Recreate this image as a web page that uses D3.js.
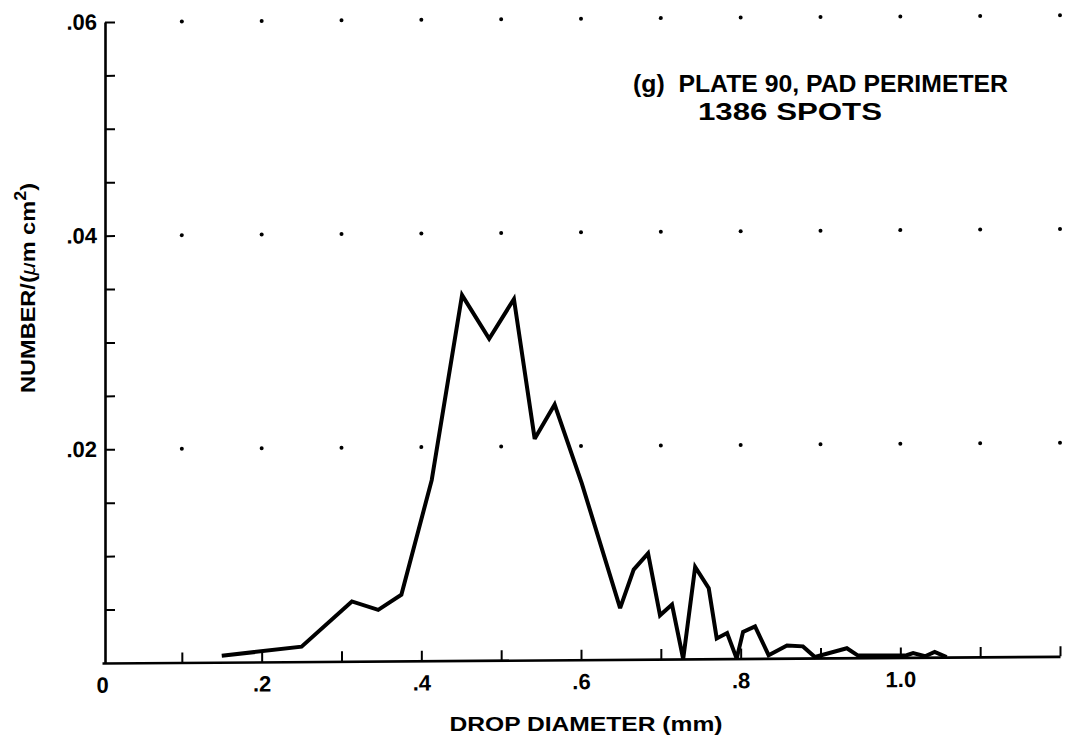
<!DOCTYPE html>
<html>
<head>
<meta charset="utf-8">
<script src="https://cdn.jsdelivr.net/npm/d3@7"></script>
<style>
  html, body { margin: 0; padding: 0; background: #fff; }
  svg { display: block; }
  text { font-family: "Liberation Sans", Arial, Helvetica, sans-serif; font-weight: bold; fill: #000; }
</style>
</head>
<body>
<svg id="chart" width="1065" height="738"></svg>
<script>
// Drop-size distribution, plate 90, pad perimeter
const diameterMm = [0.150, 0.250, 0.313, 0.346, 0.375, 0.413, 0.451, 0.485, 0.516, 0.542,
                    0.567, 0.601, 0.649, 0.666, 0.684, 0.699, 0.714, 0.728, 0.743, 0.760,
                    0.770, 0.783, 0.795, 0.803, 0.818, 0.835, 0.858, 0.878, 0.893, 0.933,
                    0.947, 1.008, 1.016, 1.031, 1.043, 1.058];
const numberDensity = [0.0006, 0.0014, 0.0056, 0.0048, 0.0062, 0.0169, 0.0342, 0.0301, 0.0338, 0.0207,
                       0.0239, 0.0165, 0.0048, 0.0084, 0.0099, 0.0041, 0.0051, 0.0000, 0.0086, 0.0066,
                       0.0019, 0.0024, 0.0000, 0.0025, 0.0030, 0.0003, 0.0012, 0.0011, 0.0001, 0.0009,
                       0.0002, 0.0002, 0.0004, 0.0001, 0.0005, 0.0000];

const xTickValues = [0.1, 0.2, 0.3, 0.4, 0.5, 0.6, 0.7, 0.8, 0.9, 1.0, 1.1, 1.2];
const xLabelValues = [0, 0.2, 0.4, 0.6, 0.8, 1.0];
const yTickValues = [0.005, 0.01, 0.015, 0.02, 0.025, 0.03, 0.035, 0.04, 0.045, 0.05, 0.055, 0.06];
const yLabelValues = [0.02, 0.04, 0.06];
const gridX = [0.1, 0.2, 0.3, 0.4, 0.5, 0.6, 0.7, 0.8, 0.9, 1.0, 1.1, 1.2];
const gridY = [0.02, 0.04, 0.06];

const titleLines = ["(g)  PLATE 90, PAD PERIMETER", "1386 SPOTS"];
const xTitle = "DROP DIAMETER (mm)";

const svg = d3.select("#chart");

const x = d3.scaleLinear().domain([0, 1.2]).range([102, 1060]);
const y = d3.scaleLinear().domain([0, 0.06]).range([663, 22]);
const yAxisX = 105;

// plot body, with a slight downward slope of the frame to the left
const plot = svg.append("g")
  .attr("transform", `translate(${yAxisX},${y(0)}) skewY(-0.4) translate(${-yAxisX},${-y(0)})`);

// dotted reference grid
const gridPts = [];
gridY.forEach(gy => gridX.forEach(gx => gridPts.push([gx, gy])));
plot.append("g").selectAll("circle")
  .data(gridPts)
  .join("circle")
  .attr("cx", d => x(d[0]))
  .attr("cy", d => y(d[1]))
  .attr("r", 2)
  .attr("fill", "#000");

const fmtX = d => {
  if (!xLabelValues.some(v => Math.abs(v - d) < 1e-9)) return "";
  if (d === 0) return "0";
  return d < 1 ? d.toFixed(1).replace(/^0/, "") : d.toFixed(1);
};
const fmtY = d => yLabelValues.some(v => Math.abs(v - d) < 1e-9) ? d.toFixed(2).replace(/^0/, "") : "";

// x axis: ticks point up into the plot
const xAxis = plot.append("g")
  .attr("transform", `translate(0,${y(0)})`)
  .call(d3.axisBottom(x).tickValues([0].concat(xTickValues)).tickFormat(fmtX)
    .tickSizeInner(-10).tickSizeOuter(0).tickPadding(14));
xAxis.select(".domain").attr("stroke", "#000").attr("stroke-width", 2.6);
xAxis.selectAll(".tick line").attr("stroke", "#000").attr("stroke-width", 2)
  .attr("opacity", d => d === 0 ? 0 : 1);
xAxis.selectAll(".tick text").attr("font-size", 22).attr("font-family", null).attr("fill", "#000");

// y axis: ticks point right into the plot
const yAxis = plot.append("g")
  .attr("transform", `translate(${yAxisX},0)`)
  .call(d3.axisLeft(y).tickValues(yTickValues).tickFormat(fmtY)
    .tickSizeInner(-10).tickSizeOuter(0).tickPadding(8));
yAxis.select(".domain").attr("stroke", "#000").attr("stroke-width", 2.6);
yAxis.selectAll(".tick line").attr("stroke", "#000").attr("stroke-width", 2);
yAxis.selectAll(".tick text").attr("font-size", 22).attr("font-family", null).attr("fill", "#000");

// distribution curve
const line = d3.line()
  .x((d, i) => x(diameterMm[i]))
  .y(d => y(d));
plot.append("path")
  .datum(numberDensity)
  .attr("d", line)
  .attr("fill", "none")
  .attr("stroke", "#000")
  .attr("stroke-width", 4)
  .attr("stroke-linejoin", "miter")
  .attr("stroke-miterlimit", 3);

// annotation (wide lettering)
svg.append("text").attr("x", 633).attr("y", 92).attr("font-size", 23)
  .attr("textLength", 375).attr("lengthAdjust", "spacingAndGlyphs")
  .style("white-space", "pre").text(titleLines[0]);
svg.append("text").attr("x", 698).attr("y", 120).attr("font-size", 23)
  .attr("textLength", 184).attr("lengthAdjust", "spacingAndGlyphs").text(titleLines[1]);

// axis titles
svg.append("text")
  .attr("x", 586).attr("y", 731)
  .attr("text-anchor", "middle")
  .attr("font-size", 21)
  .attr("textLength", 273).attr("lengthAdjust", "spacingAndGlyphs")
  .text(xTitle);

const yTitle = svg.append("text")
  .attr("transform", "translate(35,288) rotate(-90)")
  .attr("text-anchor", "middle")
  .attr("font-size", 21);
yTitle.append("tspan").text("NUMBER/(");
yTitle.append("tspan").attr("font-style", "italic").attr("font-weight", "normal").text("\u03BC");
yTitle.append("tspan").text("m cm");
yTitle.append("tspan").attr("dy", -9).attr("font-size", 16).text("2");
yTitle.append("tspan").attr("dy", 9).text(")");
yTitle.attr("textLength", 210).attr("lengthAdjust", "spacingAndGlyphs");
</script>
</body>
</html>
